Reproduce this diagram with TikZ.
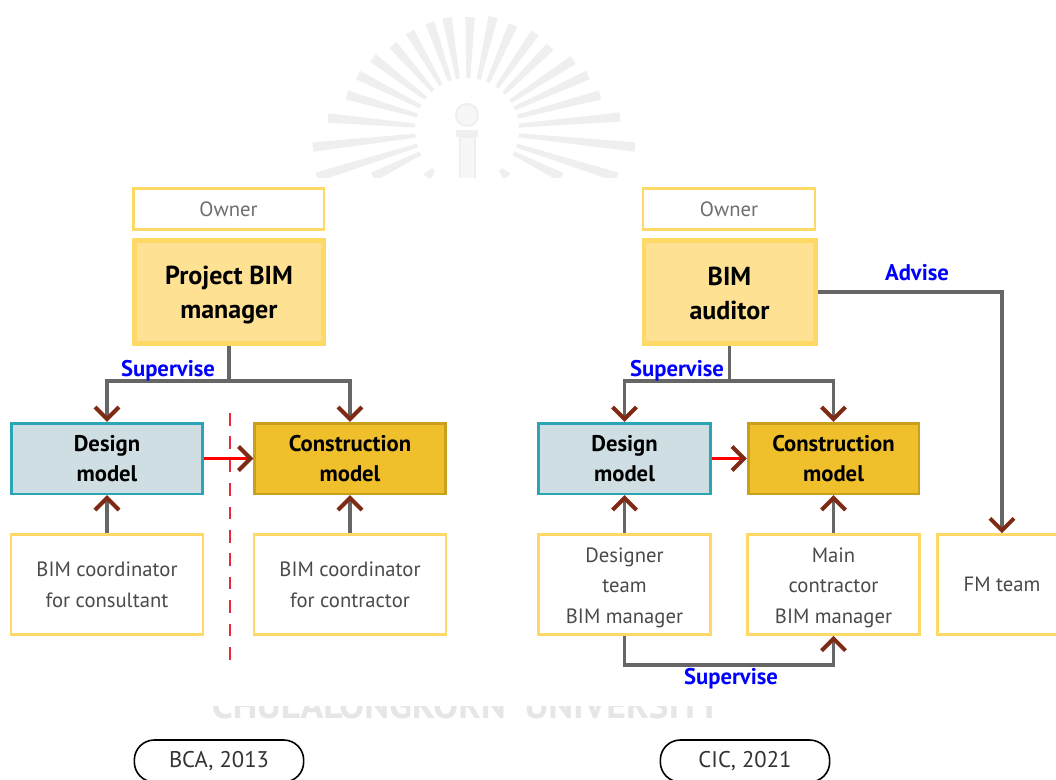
\documentclass[tikz,border=0pt]{standalone}
\usepackage{fontspec}
\setmainfont{PT Sans}
\usetikzlibrary{arrows.meta,calc}
\definecolor{yel}{HTML}{FFD966}
\definecolor{yelfill}{HTML}{FEE193}
\definecolor{teal1}{HTML}{2AA5B5}
\definecolor{bluefill}{HTML}{CFDEE2}
\definecolor{gold}{HTML}{F0C02C}
\definecolor{golddark}{HTML}{C9A01E}
\definecolor{brownarrow}{HTML}{7F2A14}
\definecolor{linegray}{HTML}{666666}
\definecolor{txtgray}{HTML}{4A4A4A}
\definecolor{wm}{HTML}{EFEFEF}
\definecolor{wmtxt}{HTML}{E6E6E6}
\definecolor{dashred}{HTML}{E8283C}
\tikzset{
 x=0.75pt,y=-0.75pt,
 box/.style={draw=yel,line width=2pt,fill=white,inner sep=0pt,align=center,text=txtgray,font=\fontsize{15.5}{23}\selectfont},
 boxwide/.style={box,minimum width=144pt,minimum height=75pt},
 boxnarrow/.style={box,minimum width=129pt,minimum height=75pt},
 ownerbox/.style={box,minimum height=31pt,text=txtgray!80},
 bossbox/.style={draw=yel,line width=3.5pt,fill=yelfill,inner sep=0pt,align=center,text=black,minimum height=77pt,font=\fontsize{19.5}{25.5}\selectfont\bfseries},
 modelbase/.style={line width=2pt,inner sep=0pt,align=center,text=black,minimum height=53pt,font=\fontsize{17}{23}\selectfont\bfseries},
 designbox/.style={modelbase,draw=teal1,fill=bluefill},
 constrbox/.style={modelbase,draw=golddark,fill=gold},
 pill/.style={draw=black,line width=1.2pt,rounded corners=15pt,minimum width=127pt,minimum height=31.5pt,inner sep=0pt,font=\fontsize{17}{20}\selectfont,text=black!80},
 rel/.style={text=blue,font=\fontsize{17}{20}\selectfont\bfseries,inner sep=0pt},
 conn/.style={draw=linegray,line width=2.4pt},
 redconn/.style={draw=red,line width=2.4pt},
 tip/.style={-{Straight Barb[color=brownarrow,length=9pt,width=18pt,line width=3pt]}},
}
\begin{document}
\begin{tikzpicture}
\useasboundingbox (0,0) rectangle (1056,779);
\fill[white] (0,0) rectangle (1056,779);
% watermark
\coordinate (wc) at (467,130);
\begin{scope}
\clip (0,0) rectangle (1056,177);
\foreach \tx/\ty in {430/23,447/18,470/17,493/17,513/25,535/33,550/47,573/60,588/75,600/95,620/117,635/147,410/32,393/45,373/58,358/75,347/95,328/118,313/147,317/177,373/177,427/177,445/177,617/177,561/177,507/177,489/177}{
  \coordinate (wt) at (\tx,\ty);
  \coordinate (wi) at ($(wc)!39pt!(wt)$);
  \fill[wm] ($(wi)!1.5pt!90:(wt)$) -- ($(wt)!3.5pt!-90:(wi)$) -- (wt) -- ($(wt)!3.5pt!90:(wi)$) -- ($(wi)!1.5pt!-90:(wt)$) -- cycle;
}
\draw[wm,line width=1.5pt,fill=wm!50] (467,115) circle (11);
\fill[wm] (456,130) rectangle (478,137);
\draw[wm,line width=1.5pt,fill=wm!50] (460,137) rectangle (475,180);
\end{scope}
\begin{scope}
\clip (200,706) rectangle (740,720);
\node[text=wmtxt,font=\fontsize{28.2}{34}\selectfont\bfseries,inner sep=0pt,anchor=base] (wmtext) at (466,718) {CHULALONGKORN\ \ UNIVERSITY};
\end{scope}
% left
\node[ownerbox,minimum width=143pt] (ownerL) at (228.5,209) {Owner};
\node[bossbox,minimum width=142pt] (bossL) at (229,292) {\rule{0pt}{19pt}Project BIM\\manager};
\node[designbox,minimum width=143pt] (desL) at (107,458.5) {Design\\model};
\node[constrbox,minimum width=143pt] (conL) at (350,458.5) {Construction\\model};
\node[boxwide] (coordA) at (107,584.5) {BIM coordinator\\for consultant};
\node[boxwide] (coordB) at (350,584.5) {BIM coordinator\\for contractor};
\coordinate (jL) at (bossL.south |- 0,381);
\draw[conn] (bossL.south) -- (jL);
\draw[conn,tip] (jL) -| (desL.north);
\draw[conn,tip] (jL) -| (conL.north);
\node[rel] (supL) at (168,371) {Supervise};
\draw[conn,tip] (coordA.north) -- (desL.south);
\draw[conn,tip] (coordB.north) -- (conL.south);
\coordinate (dashT) at (230,413);
\coordinate (dashB) at (230,660);
\draw[dashred,line width=2pt,dash pattern=on 9.5pt off 8.05pt] (dashT) -- (dashB);
\draw[redconn,tip] (desL.east) -- (conL.west);
% right
\node[ownerbox,minimum width=129pt] (ownerR) at (729,209) {Owner};
\node[bossbox,minimum width=128.5pt] (bossR) at (729.5,292) {\rule{0pt}{16.5pt}BIM\\auditor};
\node[designbox,minimum width=129pt] (desR) at (624.5,458.5) {Design\\model};
\node[constrbox,minimum width=128pt] (conR) at (833.5,458.5) {Construction\\model};
\node[boxnarrow] (dgn) at (624.5,584.5) {\rule{0pt}{16pt}Designer\\team\\BIM manager};
\node[boxnarrow] (mainc) at (833.5,584.5) {\rule{0pt}{16pt}Main\\contractor\\BIM manager};
\node[box,minimum width=97pt,minimum height=75pt] (fm) at (1002,584.5) {FM team};
\coordinate (jR) at (bossR.south |- 0,381);
\draw[conn] (bossR.south) -- (jR);
\draw[conn,tip] (jR) -| (desR.north);
\draw[conn,tip] (jR) -| (conR.north);
\node[rel] (supR) at (677,371) {Supervise};
\draw[conn,tip] (dgn.north) -- (desR.south);
\draw[conn,tip] (mainc.north) -- (conR.south);
\draw[redconn,tip] (desR.east) -- (conR.west);
\draw[conn,tip] (bossR.east |- 0,292) -| (fm.north);
\node[rel] (adv) at (917,273) {Advise};
\coordinate (lowL) at (624.5,665);
\draw[conn,tip] (dgn.south) -- (lowL) -| (mainc.south);
\node[rel] (supB) at (731,679) {Supervise};
% pills
\node[pill] (bca) at (219,761) {BCA, 2013};
\node[pill] (cic) at (745,761) {CIC, 2021};
\end{tikzpicture}
\end{document}
